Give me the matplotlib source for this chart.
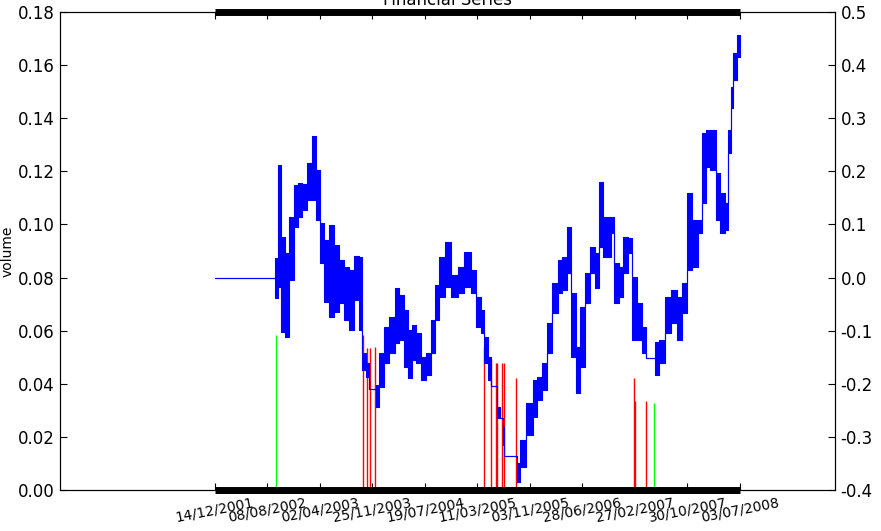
# import
import numpy as np
import matplotlib.pyplot as plt
from matplotlib.ticker import FormatStrFormatter

# price series (day offset from 14/12/2001, low, high)
price_day = [0, 269, 278, 296, 310, 328, 351, 369, 387, 410, 433, 451, 469, 488, 510,
             533, 556, 579, 602, 624, 647, 665, 679, 697, 711, 729, 738, 757, 784, 807,
             830, 852, 871, 889, 907, 930, 953, 975, 994, 1012, 1035, 1062, 1094, 1121,
             1153, 1181, 1203, 1222, 1235, 1253, 1263, 1285, 1290, 1313, 1317, 1322, 1372,
             1381, 1404, 1436, 1459, 1481, 1504, 1527, 1550, 1573, 1595, 1618, 1632, 1655,
             1677, 1700, 1723, 1741, 1759, 1782, 1796, 1810, 1828, 1851, 1873, 1892, 1910,
             1933, 1960, 1969, 2001, 2010, 2037, 2065, 2092, 2119, 2142, 2165, 2188, 2211,
             2229, 2247, 2270, 2293, 2315, 2334, 2347, 2356, 2370, 2393]
price_low = [0.0, 0.0, -0.039, -0.018, -0.103, -0.112, -0.005, 0.095, 0.114, 0.127, 0.146,
             0.146, 0.108, 0.027, -0.046, -0.074, -0.065, -0.048, -0.080, -0.099, -0.042,
             -0.099, -0.174, -0.187, -0.210, -0.210, -0.244, -0.206, -0.161, -0.142, -0.123,
             -0.118, -0.168, -0.189, -0.155, -0.160, -0.193, -0.183, -0.142, -0.080, -0.037,
             -0.018, -0.037, -0.029, -0.018, -0.029, -0.093, -0.104, -0.161, -0.193, -0.204,
             -0.204, -0.264, -0.264, -0.315, -0.336, -0.336, -0.385, -0.357, -0.296, -0.263,
             -0.230, -0.212, -0.142, -0.067, -0.029, -0.023, 0.008, -0.150, -0.217, -0.168,
             -0.048, 0.008, -0.020, 0.057, 0.039, 0.039, 0.083, -0.048, -0.037, 0.008, 0.046,
             -0.118, -0.118, -0.142, -0.152, -0.152, -0.183, -0.161, -0.104, -0.086, -0.118,
             -0.067, 0.014, 0.020, 0.083, 0.140, 0.208, 0.203, 0.108, 0.083, 0.090, 0.234,
             0.320, 0.372, 0.415]
price_high = [0.0, 0.0, 0.037, 0.212, 0.076, 0.046, 0.114, 0.174, 0.178, 0.176, 0.216,
              0.267, 0.203, 0.103, 0.071, 0.099, 0.061, 0.033, 0.020, 0.014, 0.040, 0.039,
              -0.142, -0.161, -0.210, -0.210, -0.202, -0.142, -0.093, -0.074, -0.020, -0.033,
              -0.061, -0.099, -0.089, -0.104, -0.150, -0.142, -0.080, -0.014, 0.039, 0.067,
              0.005, 0.020, 0.048, 0.014, -0.037, -0.061, -0.112, -0.150, -0.204, -0.204,
              -0.244, -0.264, -0.281, -0.336, -0.336, -0.349, -0.306, -0.236, -0.193, -0.187,
              -0.161, -0.086, -0.010, 0.033, 0.039, 0.095, -0.029, -0.131, -0.055, 0.008,
              0.057, 0.046, 0.180, 0.114, 0.114, 0.114, 0.027, 0.020, 0.076, 0.074, 0.001,
              -0.048, -0.093, -0.152, -0.152, -0.121, -0.118, -0.037, -0.023, -0.037, -0.010,
              0.159, 0.108, 0.108, 0.272, 0.278, 0.278, 0.197, 0.159, 0.140, 0.278, 0.359,
              0.422, 0.457]

# volume spikes
vol_day = [278, 675, 693, 707, 729, 1226, 1258, 1281, 1285, 1308, 1317, 1372, 1910, 1914, 1964, 2001]
vol_value = [0.0584, 0.0584, 0.0535, 0.0535, 0.054, 0.054, 0.0493, 0.048, 0.048, 0.048, 0.048,
             0.042, 0.042, 0.0335, 0.0335, 0.0328]
vol_color = ['#00ff00', 'r', 'r', 'r', 'r', 'r', 'r', 'r', 'r', 'r', 'r', 'r', 'r', 'r', 'r', '#00ff00']

# tick labels
date_labels = ['14/12/2001', '08/08/2002', '02/04/2003', '25/11/2003', '19/07/2004',
               '11/03/2005', '03/11/2005', '28/06/2006', '27/02/2007', '30/10/2007',
               '03/07/2008']

# figure preparation
fig = plt.figure(figsize = (8.81, 5.31), dpi = 100)
ax = fig.add_axes([60 / 881, 1 - 490 / 531, 775 / 881, 478 / 531])
ax2 = ax.twinx()

last_day = price_day[-1]
vol_ylim = (0, 0.18)

# volume bars
ax.vlines(vol_day, 0, vol_value, colors = vol_color, lw = 1)
ax.hlines(vol_ylim, price_day[0], last_day, colors = 'k', lw = 5, clip_on = False, zorder = 5)

# price range band, one step per column
ax2.fill_between(price_day, price_low, price_high, step = 'mid',
                 facecolor = 'b', edgecolor = 'b', lw = 0.8)

# axes limits and ticks
ax.set_xlim(-706, last_day + 433)
ax.set_ylim(vol_ylim)
ax2.set_ylim(-0.4, 0.5)
ax.set_yticks(np.arange(0, 19, 2) / 100)
ax2.set_yticks(np.arange(-4, 6) / 10)
ax.yaxis.set_major_formatter(FormatStrFormatter('%.2f'))
ax2.yaxis.set_major_formatter(FormatStrFormatter('%.1f'))
ax.set_xticks(np.linspace(0, last_day, len(date_labels)))
ax.set_xticklabels(date_labels, rotation = 11, ha = 'center', fontsize = 10)

for a in (ax, ax2):
    a.tick_params(axis = 'both', direction = 'in', length = 5, labelsize = 12, pad = 4)
ax.tick_params(axis = 'x', labelsize = 10, top = True)

ax.set_ylabel('volume', fontsize = 10, labelpad = 2)
ax.set_title('Financial Series', fontsize = 12, pad = 5)

fig.savefig('out.png', dpi = 100)
